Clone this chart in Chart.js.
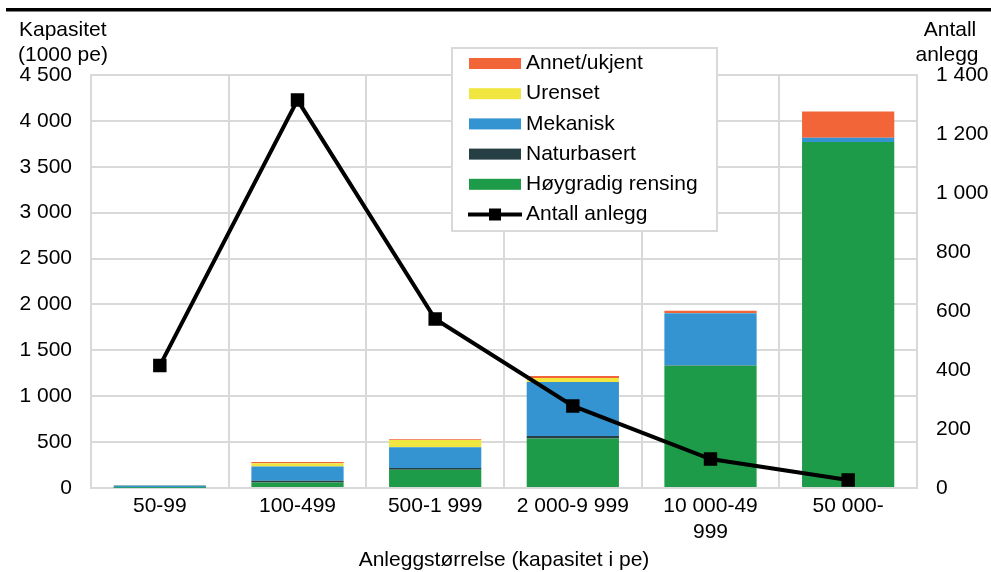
<!DOCTYPE html>
<html>
<head>
<meta charset="utf-8">
<script src="https://cdn.jsdelivr.net/npm/chart.js@4/dist/chart.umd.min.js"></script>
<style>
  html, body { margin: 0; padding: 0; background: #fff; }
  canvas { display: block; }
</style>
</head>
<body>
<canvas id="c" width="991" height="572"></canvas>
<script>
// ---- data ----
const categories = ['50-99', '100-499', '500-1 999', '2 000-9 999', ['10 000-49', '999'], '50 000-'];
const hoygradig   = [2, 60, 200, 538, 1332, 3771];
const naturbasert = [1, 20, 18, 29, 3, 0];
const mekanisk    = [25, 155, 225, 588, 570, 44];
const urenset     = [2, 35, 80, 44, 2, 0];
const annet       = [2, 12, 8, 22, 25, 287];
const antallAnlegg = [415, 1315, 573, 278, 98, 27];

const leftTitle = ['Kapasitet', '(1000 pe)'];
const rightTitle = ['Antall', 'anlegg'];
const xTitle = 'Anleggstørrelse (kapasitet i pe)';

const FONT = '"Liberation Sans", Arial, sans-serif';
const FS = 21;
const COLORS = {
  annet: '#F26539',
  urenset: '#F1E540',
  mekanisk: '#3494D2',
  natur: '#263F44',
  hoyg: '#1E9B48',
  grid: '#D9D9D9'
};

function fmt(v) { return String(v).replace(/\B(?=(\d{3})+(?!\d))/g, ' '); }

const legendItems = [
  { label: 'Annet/ukjent', color: COLORS.annet, type: 'bar' },
  { label: 'Urenset', color: COLORS.urenset, type: 'bar' },
  { label: 'Mekanisk', color: COLORS.mekanisk, type: 'bar' },
  { label: 'Naturbasert', color: COLORS.natur, type: 'bar' },
  { label: 'Høygradig rensing', color: COLORS.hoyg, type: 'bar' },
  { label: 'Antall anlegg', color: '#000', type: 'line' }
];

const decor = {
  id: 'decor',
  afterDraw(chart) {
    const ctx = chart.ctx;
    const ca = chart.chartArea;
    ctx.save();
    // top rule
    ctx.fillStyle = '#000';
    ctx.fillRect(6, 8, 991 - 6, 3.5);
    // titles
    ctx.font = FS + 'px ' + FONT;
    ctx.fillStyle = '#000';
    ctx.textBaseline = 'middle';
    ctx.textAlign = 'left';
    ctx.fillText(leftTitle[0], 19, 30);
    ctx.fillText(leftTitle[1], 18, 55);
    ctx.textAlign = 'center';
    ctx.fillText(rightTitle[0], 950, 30);
    ctx.fillText(rightTitle[1], 947, 55);
    ctx.fillText(xTitle, (ca.left + ca.right) / 2, 560);
    // legend
    const bx = 452, by = 48, bw = 265, bh = 183;
    ctx.fillStyle = '#fff';
    ctx.fillRect(bx, by, bw, bh);
    ctx.strokeStyle = COLORS.grid;
    ctx.lineWidth = 2;
    ctx.strokeRect(bx, by, bw, bh);
    ctx.textAlign = 'left';
    legendItems.forEach((it, i) => {
      const y = 63.5 + i * 30.2;
      if (it.type === 'bar') {
        ctx.fillStyle = it.color;
        ctx.fillRect(469, y - 5.5, 52, 11);
      } else {
        ctx.strokeStyle = '#000';
        ctx.lineWidth = 4;
        ctx.beginPath();
        ctx.moveTo(468, y);
        ctx.lineTo(522, y);
        ctx.stroke();
        ctx.fillStyle = '#000';
        ctx.fillRect(495 - 6, y - 6, 12, 12);
      }
      ctx.fillStyle = '#000';
      ctx.fillText(it.label, 526, y);
    });
    ctx.restore();
  }
};

const barDs = (label, data, color) => ({
  type: 'bar', label, data, backgroundColor: color, borderWidth: 0,
  stack: 's', yAxisID: 'y', order: 2,
  barPercentage: 0.67, categoryPercentage: 1
});

new Chart(document.getElementById('c'), {
  data: {
    labels: categories,
    datasets: [
      {
        type: 'line', label: 'Antall anlegg', data: antallAnlegg, yAxisID: 'y1', order: 0,
        borderColor: '#000', borderWidth: 4, backgroundColor: '#000',
        pointStyle: 'rect', pointRadius: 9.5, pointBackgroundColor: '#000', pointBorderWidth: 0,
        tension: 0, fill: false
      },
      barDs('Høygradig rensing', hoygradig, COLORS.hoyg),
      barDs('Naturbasert', naturbasert, COLORS.natur),
      barDs('Mekanisk', mekanisk, COLORS.mekanisk),
      barDs('Urenset', urenset, COLORS.urenset),
      barDs('Annet/ukjent', annet, COLORS.annet)
    ]
  },
  options: {
    responsive: false,
    animation: false,
    devicePixelRatio: 1,
    layout: { padding: { top: 75, left: 0, right: 0, bottom: 0 } },
    plugins: { legend: { display: false }, tooltip: { enabled: false }, title: { display: false } },
    scales: {
      x: {
        stacked: true,
        grid: { color: COLORS.grid, lineWidth: 2, offset: true, drawTicks: false },
        border: { color: COLORS.grid, width: 2 },
        ticks: { color: '#000', font: { family: FONT, size: FS, lineHeight: 1.2 }, padding: 6, maxRotation: 0, autoSkip: false },
        afterFit(s) { s.height = 84; }
      },
      y: {
        position: 'left', stacked: true, min: 0, max: 4500,
        grid: { color: COLORS.grid, lineWidth: 2, drawTicks: false },
        border: { color: COLORS.grid, width: 2 },
        ticks: { stepSize: 500, color: '#000', font: { family: FONT, size: FS }, padding: 19, callback: v => fmt(v) },
        afterFit(s) { s.width = 91; }
      },
      y1: {
        position: 'right', min: 0, max: 1400,
        grid: { drawOnChartArea: false, drawTicks: false },
        border: { color: COLORS.grid, width: 2 },
        ticks: { stepSize: 200, color: '#000', font: { family: FONT, size: FS }, padding: 19, callback: v => fmt(v) },
        afterFit(s) { s.width = 74; }
      }
    }
  },
  plugins: [decor]
});
</script>
</body>
</html>
